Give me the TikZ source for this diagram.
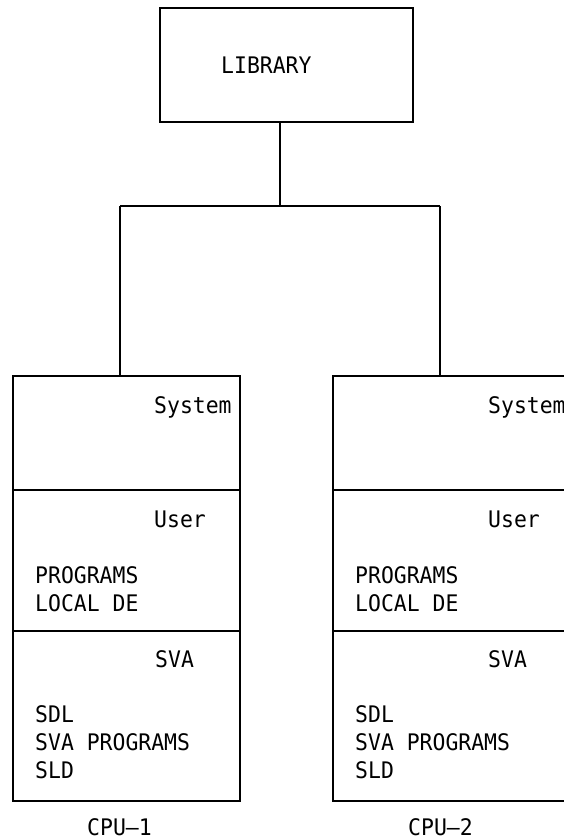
\documentclass[tikz,border=0pt]{standalone}
\usepackage{fontspec}
\newfontfamily\monofont[FakeStretch=0.94]{DejaVu Sans Mono}
\begin{document}
\begin{tikzpicture}[x=1pt,y=-1pt,
  box/.style={draw, line width=1.5pt, inner sep=0pt, rectangle},
  wire/.style={line width=1.5pt},
  lbl/.style={anchor=base west, inner sep=0pt, font=\monofont\fontsize{22.8}{28}\selectfont}]
\useasboundingbox (0,0) rectangle (564,839);
\clip (0,0) rectangle (564,839);
% library
\node[box, minimum width=253pt, minimum height=114pt] (lib) at (286.5,65) {};
\node[lbl] (libt) at (221,73) {LIBRARY};
% CPU boxes
\node[box, minimum width=227pt, minimum height=425pt] (cpuA) at (126.5,588.5) {};
\node[box, minimum width=240pt, minimum height=425pt] (cpuB) at (453,588.5) {};
% dividers
\draw[wire] (cpuA.west |- 0,490) -- (cpuA.east |- 0,490);
\draw[wire] (cpuA.west |- 0,631) -- (cpuA.east |- 0,631);
\draw[wire] (cpuB.west |- 0,490) -- (cpuB.east |- 0,490);
\draw[wire] (cpuB.west |- 0,631) -- (cpuB.east |- 0,631);
% connectors
\coordinate (jn) at (280,206);
\coordinate (jl) at (120,206);
\coordinate (jr) at (440,206);
\draw[wire] (lib.south -| jn) -- (jn);
\draw[wire] (jl) -- (jr);
\draw[wire] (jl) -- (cpuA.north -| jl);
\draw[wire] (jr) -- (cpuB.north -| jr);
% texts CPU-1
\node[lbl] (a1) at (154,413) {System};
\node[lbl] (a2) at (154,527) {User};
\node[lbl] (a3) at (35,583) {PROGRAMS};
\node[lbl] (a4) at (35,611) {LOCAL DE};
\node[lbl] (a5) at (155,667) {SVA};
\node[lbl] (a6) at (35,722) {SDL};
\node[lbl] (a7) at (35,750) {SVA PROGRAMS};
\node[lbl] (a8) at (35,778) {SLD};
\node[lbl] (a9) at (87,835) {CPU—1};
% texts CPU-2
\node[lbl] (b1) at (488,413) {System};
\node[lbl] (b2) at (488,527) {User};
\node[lbl] (b3) at (355,583) {PROGRAMS};
\node[lbl] (b4) at (355,611) {LOCAL DE};
\node[lbl] (b5) at (488,667) {SVA};
\node[lbl] (b6) at (355,722) {SDL};
\node[lbl] (b7) at (355,750) {SVA PROGRAMS};
\node[lbl] (b8) at (355,778) {SLD};
\node[lbl] (b9) at (408,835) {CPU—2};
\end{tikzpicture}
\end{document}
